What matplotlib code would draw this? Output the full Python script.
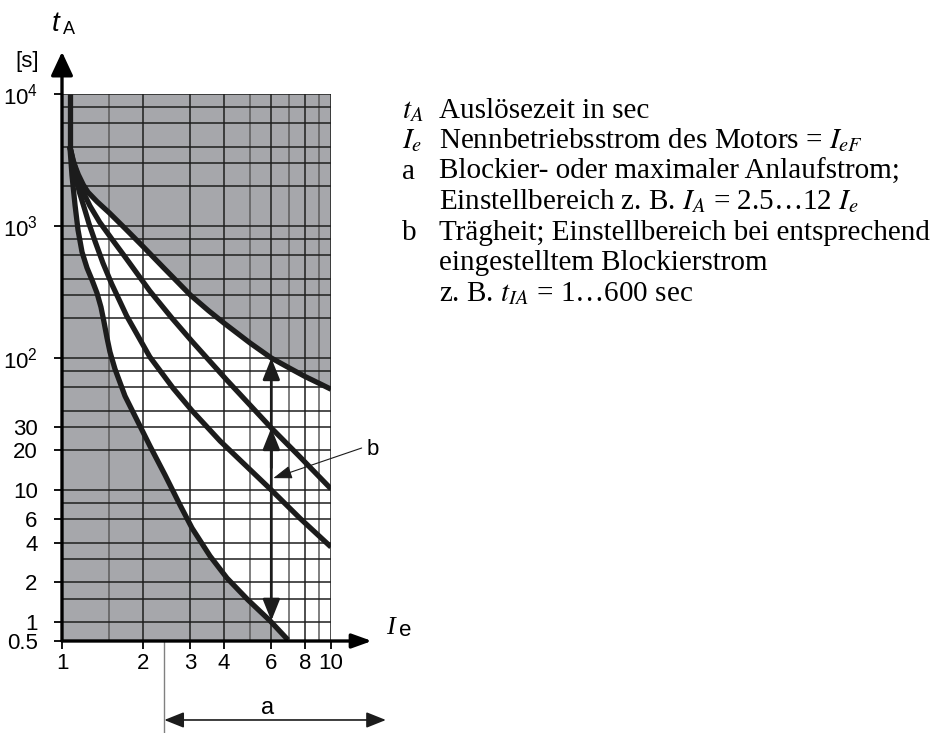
import numpy as np
import matplotlib
matplotlib.use("Agg")
import matplotlib.pyplot as plt
from matplotlib.ticker import NullLocator
from matplotlib.transforms import blended_transform_factory

plt.rcParams['font.family'] = ['Liberation Sans', 'DejaVu Sans']
plt.rcParams['mathtext.fontset'] = 'custom'
plt.rcParams['mathtext.rm'] = 'Liberation Sans'
plt.rcParams['mathtext.it'] = 'Liberation Sans:italic'
plt.rcParams['mathtext.bf'] = 'Liberation Sans:bold'

# ---- tripping characteristics: current multiple I/Ie -> tripping time tA [s]
stem_x = [1.07, 1.07]
stem_y = [4000, 10000]

curve1_x = [1.07, 1.1, 1.15, 1.2, 1.25, 1.35, 1.5, 1.7, 2.0, 2.4, 3.0, 3.5, 4.0, 5.0, 6.0,
            7.0, 8.0, 9.0, 10.0]
curve1_y = [4000, 3100, 2450, 2050, 1800, 1530, 1257, 977, 700, 477, 300, 229, 184, 130, 100,
            84, 72.5, 64.5, 58]

curve2_x = [1.07, 1.10, 1.14, 1.19, 1.27, 1.38, 1.53, 1.73, 1.98, 2.12, 2.56, 3.04, 4.1, 6.0,
            7.67, 10.0]
curve2_y = [4000, 3160, 2430, 1870, 1420, 1070, 800, 570, 390, 322, 201, 134, 68, 29.5,
            17.8, 10.2]

curve3_x = [1.07, 1.09, 1.12, 1.16, 1.21, 1.26, 1.33, 1.42, 1.53, 1.74, 2.12, 2.59, 3.04, 3.87,
            6.0, 7.67, 10.0]
curve3_y = [4000, 3160, 2430, 1810, 1370, 1040, 756, 524, 364, 208, 102, 59, 40, 23.5,
            10, 6.1, 3.7]

curve4_x = [1.07, 1.089, 1.118, 1.147, 1.187, 1.239, 1.293, 1.349, 1.396, 1.433, 1.47, 1.508,
            1.574, 1.715, 1.95, 2.124, 2.415, 2.746, 3.043, 3.55, 4.106, 4.914, 5.94, 6.92]
curve4_y = [4000, 2430, 1440, 933, 635, 481, 390, 311, 243, 187, 142, 111,
            82.5, 51.5, 30.5, 21.5, 13.0, 7.7, 5.15, 3.16, 2.15, 1.47, 1.02, 0.52]

# ---- axes, ticks and grid
x_limits = [1, 10]
y_limits = [0.5, 10000]
x_ticks = [1, 2, 3, 4, 6, 8, 10]
x_tick_labels = ['1', '2', '3', '4', '6', '8', '10']
y_ticks = [0.5, 1, 2, 4, 6, 10, 20, 30, 100, 1000, 10000]
y_tick_labels = ['0.5', '1', '2', '4', '6', '10', '20', '30', '$10^2$', '$10^3$', '$10^4$']
x_grid_dark = [2, 3, 4, 6, 8, 10]
x_grid_light = [1.5, 5, 7, 9]
y_grid = [1, 1.5, 2, 3, 4, 6, 8, 10, 20, 30, 40, 60, 80, 100, 200, 300, 400, 600, 800,
          1000, 2000, 3000, 4000, 6000, 8000, 10000]

# ---- setting ranges
b_arrow_x = 6
b_arrow_y = [1.02, 29.5, 100]       # curve 4, curve 2, curve 1 at I = 6 Ie
b_leader_start = (13.0, 20.8)
b_leader_tip = (6.1, 12.3)
b_label_pos = (13.6, 20.1)
a_range = [2.4, 16]
a_label_x = 5.8

legend_symbols = ['$t_A$', '$I_e$', 'a', '', 'b', '', '']
legend_texts = ['Auslösezeit in sec',
                'Nennbetriebsstrom des Motors = $I_{eF}$',
                'Blockier- oder maximaler Anlaufstrom;',
                'Einstellbereich z. B. $I_A$ = 2.5…12 $I_e$',
                'Trägheit; Einstellbereich bei entsprechend',
                'eingestelltem Blockierstrom',
                'z. B. $t_{IA}$ = 1…600 sec']

GRAY = '#a6a7ab'
INK = '#1c1c1c'
W, H = 944, 733

# lower end of the time axis (below 1 s) is compressed
K = 0.478


def fwd(y):
    y = np.asarray(y, dtype=float)
    with np.errstate(divide='ignore', invalid='ignore'):
        ly = np.log10(np.where(y > 0, y, np.nan))
    return np.where(ly >= 0, ly, K * ly)


def inv(v):
    v = np.asarray(v, dtype=float)
    return np.where(v >= 0, 10.0 ** v, 10.0 ** (v / K))


fig = plt.figure(figsize=(W / 100, H / 100), dpi=100)
ax = fig.add_axes([62 / W, 1 - 641 / H, 269 / W, 547 / H])
ax.set_xscale('log')
ax.set_yscale('function', functions=(fwd, inv))
ax.set_xlim(*x_limits)
ax.set_ylim(*y_limits)
ax.set_facecolor(GRAY)
for s in ax.spines.values():
    s.set_visible(False)

# white band between the slowest and the fastest characteristic
poly_x = curve1_x + [x_limits[1], curve4_x[-1]] + curve4_x[::-1]
poly_y = curve1_y + [y_limits[0], y_limits[0]] + curve4_y[::-1]
ax.fill(poly_x, poly_y, color='white', lw=0, zorder=1)

# grid
ax.vlines(x_grid_dark, y_limits[0], y_limits[1], colors='#1e1e1e', lw=1.1, zorder=2)
ax.vlines(x_grid_light, y_limits[0], y_limits[1], colors='#5c5c5c', lw=1.1, zorder=2)
ax.hlines(y_grid, x_limits[0], x_limits[1], colors='#1e1e1e', lw=1.1, zorder=2)

# characteristics
for cx, cy in [(stem_x, stem_y), (curve1_x, curve1_y), (curve2_x, curve2_y),
               (curve3_x, curve3_y), (curve4_x, curve4_y)]:
    ax.plot(cx, cy, color=INK, lw=3.8, solid_capstyle='butt',
            solid_joinstyle='round', zorder=3)

# ticks
ax.set_xticks(x_ticks, x_tick_labels)
ax.set_yticks(y_ticks, y_tick_labels)
ax.xaxis.set_minor_locator(NullLocator())
ax.yaxis.set_minor_locator(NullLocator())
ax.tick_params(axis='both', direction='out', length=5.5, width=1.3, color='black',
               labelsize=16)
ax.tick_params(axis='x', pad=3)
ax.tick_params(axis='y', pad=12)

# axis arrows
ax.annotate('', xy=(0, 1.077), xytext=(0, 0), xycoords='axes fraction',
            arrowprops=dict(arrowstyle='-|>,head_length=0.9,head_width=0.42',
                            mutation_scale=16, lw=2.4, color='black',
                            shrinkA=0, shrinkB=0),
            annotation_clip=False, zorder=5)
ax.annotate('', xy=(1.152, 0), xytext=(0, 0), xycoords='axes fraction',
            arrowprops=dict(arrowstyle='-|>,head_length=1.0,head_width=0.36',
                            mutation_scale=12, lw=2.4, color='black',
                            shrinkA=0, shrinkB=0),
            annotation_clip=False, zorder=5)

# inertia range b
ax.annotate('', xy=(b_arrow_x, b_arrow_y[2]), xytext=(b_arrow_x, b_arrow_y[0]),
            arrowprops=dict(arrowstyle='<|-|>,head_length=1.0,head_width=0.4',
                            mutation_scale=13, lw=2.0, color=INK,
                            shrinkA=0, shrinkB=0), zorder=4)
ax.annotate('', xy=(b_arrow_x, b_arrow_y[1]), xytext=(b_arrow_x, b_arrow_y[1] / 2),
            arrowprops=dict(arrowstyle='-|>,head_length=1.0,head_width=0.4',
                            mutation_scale=13, lw=2.0, color=INK,
                            shrinkA=0, shrinkB=0), zorder=4)
ax.annotate('', xy=b_leader_tip, xytext=b_leader_start,
            arrowprops=dict(arrowstyle='-|>,head_length=1.15,head_width=0.4',
                            mutation_scale=10, lw=0.8, color=INK,
                            shrinkA=0, shrinkB=0),
            annotation_clip=False, zorder=4)
ax.text(*b_label_pos, 'b', fontsize=16, ha='left', va='center', clip_on=False)

# blocking current range a
trans = blended_transform_factory(ax.transData, ax.transAxes)
ax.plot([a_range[0], a_range[0]], [0, -0.168], transform=trans, clip_on=False,
        color='#808080', lw=1.0)
ax.annotate('', xy=(a_range[1], -0.1444), xytext=(a_range[0], -0.1444),
            xycoords=trans,
            arrowprops=dict(arrowstyle='<|-|>,head_length=1.0,head_width=0.4',
                            mutation_scale=12, lw=1.2, color=INK,
                            shrinkA=0, shrinkB=0),
            annotation_clip=False)
ax.text(a_label_x, -0.1225, 'a', transform=trans, fontsize=17, ha='center', va='center')


def px(x, y):
    return x / W, 1 - y / H


# axis titles
fig.text(*px(52, 31), 't', fontsize=20, style='italic', ha='left', va='baseline')
fig.text(*px(63, 34), 'A', fontsize=13, ha='left', va='baseline')
fig.text(*px(15, 61), '[s]', fontsize=16, ha='left', va='center')
fig.text(*px(386, 634), 'I', fontsize=19, family='Liberation Serif', style='italic',
         ha='left', va='baseline')
fig.text(*px(399, 636), 'e', fontsize=16, ha='left', va='baseline')

# explanation block
for i, (sym, txt) in enumerate(zip(legend_symbols, legend_texts)):
    base = 118 + 30.5 * i
    if sym:
        fig.text(*px(402, base), sym, fontsize=21, family='Liberation Serif',
                 math_fontfamily='stix', ha='left', va='baseline')
    fig.text(*px(439, base), txt, fontsize=21, family='Liberation Serif',
             math_fontfamily='stix', ha='left', va='baseline')

fig.savefig('out.png', dpi=100)
